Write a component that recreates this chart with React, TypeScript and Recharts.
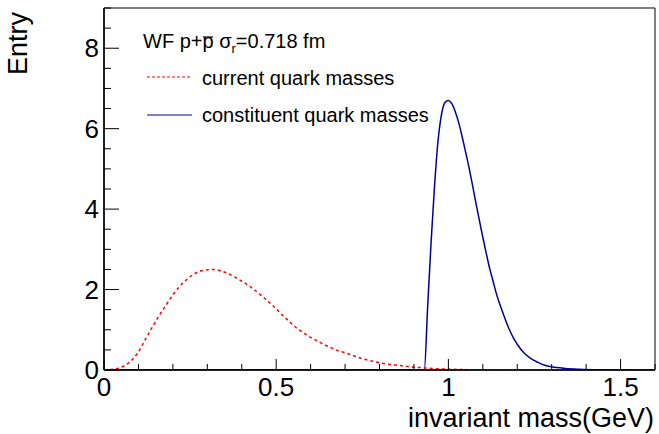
import React from 'react'
import { LineChart, Line, XAxis, YAxis, ReferenceArea } from 'recharts'

const FONT = '"Liberation Sans", Arial, Helvetica, sans-serif'

// current quark masses (red, dotted)
const currentMass = [
  0, 0.02, 0.04, 0.06, 0.08, 0.1, 0.12, 0.14, 0.16, 0.18, 0.2, 0.22, 0.24, 0.26, 0.28,
  0.3, 0.32, 0.34, 0.36, 0.38, 0.4, 0.42, 0.44, 0.46, 0.48, 0.5, 0.52, 0.54, 0.56, 0.58,
  0.6, 0.62, 0.64, 0.66, 0.68, 0.7, 0.72, 0.74, 0.76, 0.78, 0.8, 0.82, 0.84, 0.86, 0.88,
  0.9, 0.92, 0.94, 0.96, 0.98, 1.0, 1.05, 1.1, 1.2, 1.6,
]
const currentEntry = [
  0, 0.01, 0.04, 0.11, 0.24, 0.45, 0.76, 1.06, 1.35, 1.61, 1.87, 2.08, 2.25, 2.38, 2.46,
  2.49, 2.5, 2.46, 2.4, 2.31, 2.21, 2.1, 1.97, 1.83, 1.68, 1.52, 1.35, 1.19, 1.04, 0.92,
  0.81, 0.72, 0.63, 0.55, 0.48, 0.43, 0.37, 0.31, 0.26, 0.22, 0.18, 0.15, 0.13, 0.11, 0.09,
  0.07, 0.06, 0.045, 0.035, 0.025, 0.02, 0.01, 0.005, 0, 0,
]

// constituent quark masses (blue, solid)
const constituentMass = [
  0, 0.93, 0.94, 0.95, 0.96, 0.97, 0.98, 0.99, 1.0, 1.01, 1.02, 1.03, 1.04, 1.05, 1.06,
  1.07, 1.08, 1.09, 1.1, 1.11, 1.12, 1.13, 1.14, 1.15, 1.16, 1.17, 1.18, 1.19, 1.2, 1.22,
  1.24, 1.26, 1.28, 1.3, 1.34, 1.38, 1.45, 1.5, 1.6,
]
const constituentEntry = [
  0, 0, 1.6, 3.2, 4.6, 5.7, 6.35, 6.65, 6.7, 6.62, 6.42, 6.15, 5.8, 5.42, 5.03,
  4.6, 4.15, 3.72, 3.3, 2.9, 2.52, 2.2, 1.88, 1.62, 1.38, 1.15, 0.95, 0.78, 0.64, 0.42,
  0.28, 0.19, 0.12, 0.08, 0.04, 0.02, 0.005, 0, 0,
]

const xTicks = [0, 0.1, 0.2, 0.3, 0.4, 0.5, 0.6, 0.7, 0.8, 0.9, 1.0, 1.1, 1.2, 1.3, 1.4, 1.5, 1.6]
const xMajor = [0, 0.5, 1, 1.5]
const xMajorLabels = ['0', '0.5', '1', '1.5']

const yTicks = [0, 0.5, 1, 1.5, 2, 2.5, 3, 3.5, 4, 4.5, 5, 5.5, 6, 6.5, 7, 7.5, 8, 8.5, 9]
const yMajor = [0, 2, 4, 6, 8]
const yMajorLabels = ['0', '2', '4', '6', '8']

const currentData = currentMass.map((x, i) => ({ x, y: currentEntry[i] }))
const constituentData = constituentMass.map((x, i) => ({ x, y: constituentEntry[i] }))

const majorIndex = (list: number[], v: number) => list.findIndex(m => Math.abs(m - v) < 1e-6)

function XTick({ x, y, payload }: any) {
  const i = majorIndex(xMajor, payload.value)
  const len = i >= 0 ? 11 : 6
  return (
    <g>
      <line x1={x} x2={x} y1={y} y2={y - len} stroke="#000" strokeWidth={1} />
      {i >= 0 && (
        <text x={x} y={y + 26} textAnchor="middle" fontSize={26} fontFamily={FONT} fill="#000">
          {xMajorLabels[i]}
        </text>
      )}
    </g>
  )
}

function YTick({ x, y, payload }: any) {
  const i = majorIndex(yMajor, payload.value)
  const len = i >= 0 ? 15 : 7
  return (
    <g>
      <line x1={x} x2={x + len} y1={y} y2={y} stroke="#000" strokeWidth={1} />
      {i >= 0 && (
        <text x={x - 5} y={y + 9} textAnchor="end" fontSize={26} fontFamily={FONT} fill="#000">
          {yMajorLabels[i]}
        </text>
      )}
    </g>
  )
}

export default function App() {
  return (
    <div style={{ position: 'absolute', left: 0, top: 0, width: 659, height: 434, background: '#fff' }}>
      <LineChart width={659} height={434} margin={{ top: 8, right: 4, bottom: 0, left: 0 }}>
        <XAxis
          type="number"
          dataKey="x"
          domain={[0, 1.6]}
          ticks={xTicks}
          interval={0}
          height={64}
          tickSize={0}
          tickMargin={0}
          tickLine={false}
          axisLine={{ stroke: '#000', strokeWidth: 1.5 }}
          tick={<XTick />}
          allowDataOverflow
        />
        <YAxis
          type="number"
          dataKey="y"
          domain={[0, 9]}
          ticks={yTicks}
          interval={0}
          width={104}
          tickSize={0}
          tickMargin={0}
          tickLine={false}
          axisLine={{ stroke: '#000', strokeWidth: 1.5 }}
          tick={<YTick />}
          allowDataOverflow
        />
        <ReferenceArea x1={0} x2={1.6} y1={0} y2={9} fill="none" stroke="#000" strokeWidth={1} />
        <Line
          data={constituentData}
          dataKey="y"
          type="monotone"
          stroke="#000099"
          strokeWidth={1.5}
          dot={false}
          isAnimationActive={false}
        />
        <Line
          data={currentData}
          dataKey="y"
          type="monotone"
          stroke="#ff0000"
          strokeWidth={1.5}
          strokeDasharray="3 3"
          dot={false}
          isAnimationActive={false}
        />
      </LineChart>
      <svg
        width={659}
        height={434}
        style={{ position: 'absolute', left: 0, top: 0, pointerEvents: 'none' }}
        fontFamily={FONT}
      >
        <text transform="translate(27,12) rotate(-90)" textAnchor="end" fontSize={27} fill="#000">
          Entry
        </text>
        <text x={654} y={427} textAnchor="end" fontSize={27} fill="#000">
          invariant mass(GeV)
        </text>
        <text x={143} y={48} fontSize={20} fill="#000">
          WF p+p σ
          <tspan dy={5} fontSize={13}>r</tspan>
          <tspan dy={-5}>=0.718 fm</tspan>
        </text>
        <line x1={203} x2={213} y1={37} y2={37} stroke="#000" strokeWidth={1.2} />
        <line x1={147} x2={192} y1={77} y2={77} stroke="#ff0000" strokeWidth={1} strokeDasharray="3 2" />
        <text x={202} y={85} fontSize={20} fill="#000">current quark masses</text>
        <line x1={147} x2={192} y1={115} y2={115} stroke="#000099" strokeWidth={1} />
        <text x={202} y={122} fontSize={20} fill="#000">constituent quark masses</text>
      </svg>
    </div>
  )
}
